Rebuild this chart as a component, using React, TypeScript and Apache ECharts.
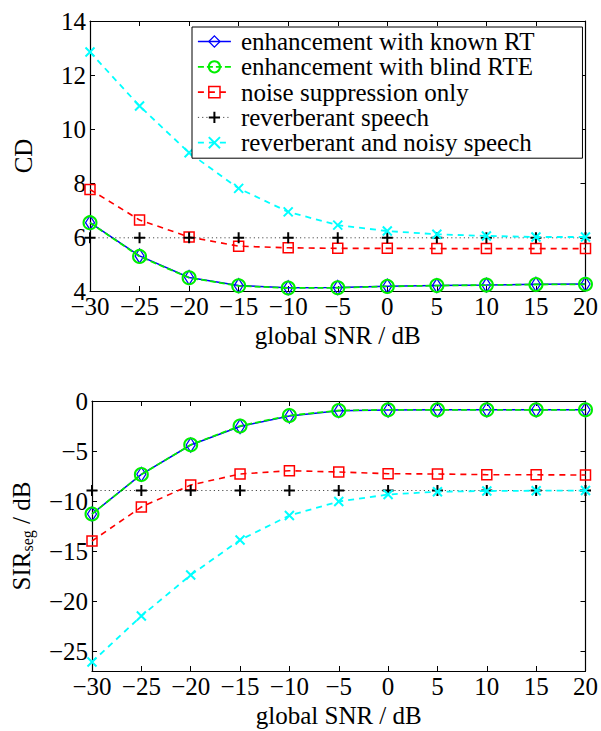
import React, { useEffect, useRef } from 'react';
import * as echarts from 'echarts';

// ---- data ----
const snr = [-30, -25, -20, -15, -10, -5, 0, 5, 10, 15, 20];
const seriesNames = [
  'enhancement with known RT',
  'enhancement with blind RTE',
  'noise suppression only',
  'reverberant speech',
  'reverberant and noisy speech',
];
// CD (top)
const cdKnownRT = [6.53, 5.3, 4.5, 4.2, 4.12, 4.13, 4.18, 4.2, 4.22, 4.25, 4.26];
const cdBlindRTE = [6.53, 5.28, 4.49, 4.19, 4.11, 4.12, 4.17, 4.2, 4.22, 4.24, 4.25];
const cdNoiseSupp = [7.76, 6.63, 6.0, 5.66, 5.6, 5.58, 5.58, 5.57, 5.57, 5.57, 5.57];
const cdReverb = [5.97, 5.97, 5.97, 5.97, 5.97, 5.97, 5.97, 5.97, 5.97, 5.97, 5.97];
const cdReverbNoisy = [12.85, 10.85, 9.12, 7.8, 6.93, 6.44, 6.22, 6.1, 6.04, 6.0, 6.0];
// SIR_seg (bottom)
const sirKnownRT = [-11.3, -7.33, -4.4, -2.55, -1.5, -0.97, -0.9, -0.88, -0.88, -0.88, -0.88];
const sirBlindRTE = [-11.3, -7.35, -4.38, -2.5, -1.45, -0.95, -0.88, -0.88, -0.88, -0.88, -0.88];
const sirNoiseSupp = [-14.0, -10.6, -8.4, -7.3, -6.97, -7.1, -7.27, -7.3, -7.37, -7.38, -7.4];
const sirReverb = [-8.95, -8.95, -8.95, -8.95, -8.95, -8.95, -8.95, -8.95, -8.95, -8.95, -8.95];
const sirReverbNoisy = [-26.1, -21.5, -17.4, -13.9, -11.45, -10.05, -9.35, -9.07, -9.0, -8.97, -8.95];
// ticks
const xTicks = [-30, -25, -20, -15, -10, -5, 0, 5, 10, 15, 20];
const cdTicks = [4, 6, 8, 10, 12, 14];
const sirTicks = [0, -5, -10, -15, -20, -25];

const FONT = 'Liberation Serif';
const FS = 25;
const PLUS = 'path://M5 0L5 10M0 5L10 5';
const CROSS = 'path://M0 0L10 10M10 0L0 10';

const looks = [
  { color: '#0000ff', symbol: 'diamond', size: [9, 14], dash: 'solid' as any, width: 1.5, bw: 1.3 },
  { color: '#00ee00', symbol: 'circle', size: 13, dash: [6, 3] as any, width: 1.8, bw: 2 },
  { color: '#ff0000', symbol: 'rect', size: 10, dash: [6, 5] as any, width: 1.6, bw: 1.5 },
  { color: '#000000', symbol: PLUS, size: 11, dash: [1.2, 3] as any, width: 1, bw: 2 },
  { color: '#00ffff', symbol: CROSS, size: 9, dash: [6, 5] as any, width: 1.8, bw: 2 },
];

const minus = (v: number) => String(v).replace('-', '\u2212');

const txt = { fontFamily: FONT, fontSize: FS, color: '#000', fontWeight: 'normal' as any, fontStyle: 'normal' as any };

function makeSeries(values: number[][], xi: number, yi: number) {
  return values.map((vals, i) => {
    const lk = looks[i];
    return {
      name: seriesNames[i],
      type: 'line',
      xAxisIndex: xi,
      yAxisIndex: yi,
      data: snr.map((x, j) => [x, vals[j]]),
      symbol: lk.symbol,
      symbolSize: lk.size,
      showAllSymbol: true,
      lineStyle: { color: lk.color, width: lk.width, type: lk.dash, opacity: i === 3 ? 0.7 : 1 },
      itemStyle: { color: 'rgba(0,0,0,0)', borderColor: lk.color, borderWidth: lk.bw },
      z: 2 + i,
    };
  });
}

function axisPair(gridIndex: number, kind: 'x' | 'y', ticks: number[], min: number, max: number, nameCfg: any) {
  const common = {
    type: 'value',
    gridIndex,
    min,
    max,
    splitLine: { show: false },
    axisLine: { show: true, onZero: false, lineStyle: { color: '#000', width: 1.2 } },
    axisTick: { show: true, inside: true, length: 5, customValues: ticks, lineStyle: { color: '#000', width: 1 } },
  };
  const main: any = {
    ...common,
    position: kind === 'x' ? 'bottom' : 'left',
    axisLabel: {
      show: true,
      customValues: ticks,
      formatter: minus,
      ...txt,
      margin: kind === 'x' ? 3 : 4,
    },
    ...nameCfg,
  };
  const other: any = {
    ...common,
    position: kind === 'x' ? 'top' : 'right',
    axisLabel: { show: false },
  };
  return [main, other];
}

export default function App() {
  const ref = useRef<HTMLDivElement>(null);
  useEffect(() => {
    const chart = echarts.init(ref.current!, null, { renderer: 'svg' });
    const xNameCfg = {
      name: 'global SNR / dB',
      nameLocation: 'middle',
      nameGap: 32,
      nameTextStyle: { ...txt },
    };
    const xAxes = [
      ...axisPair(0, 'x', xTicks, -30, 20, xNameCfg),
      ...axisPair(1, 'x', xTicks, -30, 20, xNameCfg),
    ];
    const yAxes = [
      ...axisPair(0, 'y', cdTicks, 4, 14, {
        name: 'CD',
        nameLocation: 'middle',
        nameRotate: 90,
        nameGap: 54,
        nameTextStyle: { ...txt },
      }),
      ...axisPair(1, 'y', sirTicks, -27, 0, {
        name: '{a|SIR}{s|seg}{a| / dB}',
        nameLocation: 'middle',
        nameRotate: 90,
        nameGap: 58,
        nameTextStyle: {
          ...txt,
          rich: {
            a: { ...txt, lineHeight: FS, verticalAlign: 'middle' },
            s: { ...txt, fontSize: 16, lineHeight: 16, padding: [11, 0, 0, 0], verticalAlign: 'middle' },
          },
        },
      }),
    ];
    const series = [
      ...makeSeries([cdKnownRT, cdBlindRTE, cdNoiseSupp, cdReverb, cdReverbNoisy], 0, 0),
      ...makeSeries([sirKnownRT, sirBlindRTE, sirNoiseSupp, sirReverb, sirReverbNoisy], 2, 2),
    ];
    chart.setOption({
      animation: false,
      backgroundColor: '#fff',
      textStyle: { ...txt },
      grid: [
        { left: 90, top: 21, width: 500, height: 270, show: true, borderWidth: 0, backgroundColor: '#fff' },
        { left: 90, top: 401, width: 500, height: 270, show: true, borderWidth: 0, backgroundColor: '#fff' },
      ],
      xAxis: xAxes,
      yAxis: yAxes,
      legend: {
        orient: 'vertical',
        left: 192,
        top: 27,
        itemWidth: 33,
        itemHeight: 14,
        itemGap: 0.3,
        backgroundColor: '#fff',
        borderColor: '#000',
        borderWidth: 1,
        borderRadius: 0,
        padding: [2, 48, 3, 5],
        textStyle: { ...txt, lineHeight: 25, padding: [0, 0, 0, 5] },
        data: seriesNames.map((n, i) => ({
          name: n,
          itemStyle: { color: 'rgba(0,0,0,0)', borderColor: looks[i].color, borderWidth: looks[i].bw },
          lineStyle: { color: looks[i].color, width: looks[i].width, type: looks[i].dash },
        })),
        z: 10,
      },
      series,
    });
    return () => chart.dispose();
  }, []);
  return <div ref={ref} style={{ position: 'fixed', left: 0, top: 0, width: 601, height: 731 }} />;
}
